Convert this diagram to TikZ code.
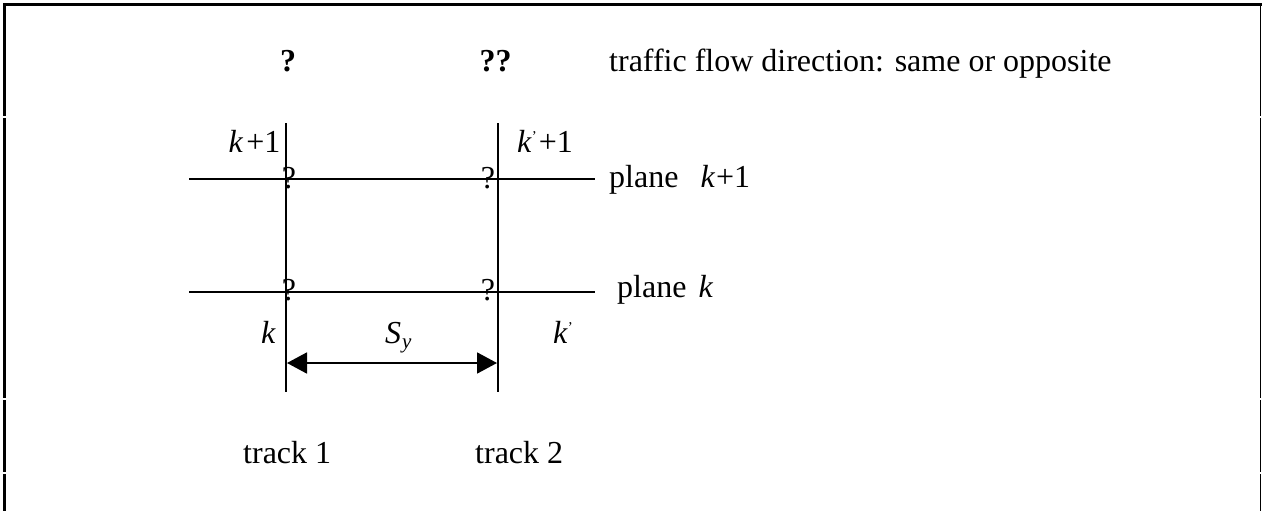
\documentclass[tikz,border=0pt]{standalone}
\usepackage{fontspec}
\setmainfont{Liberation Serif}
\usetikzlibrary{arrows.meta}
\begin{document}
\begin{tikzpicture}[x=1pt,y=-1pt,
  lbl/.style={inner sep=0pt,font=\fontsize{32}{38}\selectfont},
  thickborder/.style={line width=3pt},
  thinborder/.style={line width=1.5pt},
  trackline/.style={line width=1.8pt},
  dimarrow/.style={line width=1.8pt,{Triangle[length=20pt,width=21pt]}-{Triangle[length=20pt,width=21pt]}}]
\useasboundingbox (0,0) rectangle (1262,511);
% border
\coordinate (tl) at (3,5);
\coordinate (tr) at (1262,5);
\draw[thickborder] (tl) -- (tr);
\coordinate (l0) at (4.5,3.5);
\coordinate (l1) at (4.5,116);
\coordinate (l2) at (4.5,118);
\coordinate (l3) at (4.5,398);
\coordinate (l4) at (4.5,400);
\coordinate (l5) at (4.5,472);
\coordinate (l6) at (4.5,474);
\coordinate (l7) at (4.5,511);
\draw[thickborder] (l0) -- (l1) (l2) -- (l3) (l4) -- (l5) (l6) -- (l7);
\coordinate (r0) at (1260.5,5);
\coordinate (r1) at (1260.5,116);
\coordinate (r2) at (1260.5,118);
\coordinate (r3) at (1260.5,398);
\coordinate (r4) at (1260.5,400);
\coordinate (r5) at (1260.5,472);
\coordinate (r6) at (1260.5,474);
\coordinate (r7) at (1260.5,511);
\draw[thinborder] (r0) -- (r1) (r2) -- (r3) (r4) -- (r5) (r6) -- (r7);
% top row
\node[lbl,anchor=base] (q1) at (288,72) {\textbf{?}};
\node[lbl,anchor=base] (q2) at (495.5,72) {\textbf{??}};
\node[lbl,anchor=base west] (flow) at (609,72) {traffic flow direction: same or opposite};
% tracks
\coordinate (t1top) at (286,123);
\coordinate (t1bot) at (286,392);
\coordinate (t2top) at (498,123);
\coordinate (t2bot) at (498,392);
\draw[trackline] (t1top) -- (t1bot);
\draw[trackline] (t2top) -- (t2bot);
% planes
\coordinate (p1l) at (189,179);
\coordinate (p1r) at (595,179);
\coordinate (p0l) at (189,292);
\coordinate (p0r) at (595,292);
\draw[trackline] (p1l) -- (p1r);
\draw[trackline] (p0l) -- (p0r);
% intersection marks
\node[lbl,anchor=base] (i11) at (289,188) {?};
\node[lbl,anchor=base] (i21) at (488,188) {?};
\node[lbl,anchor=base] (i10) at (289,300) {?};
\node[lbl,anchor=base] (i20) at (488,300) {?};
% labels
\node[lbl,anchor=base east] (k1) at (280.5,152) {\textit{k}\hspace{3pt}+1};
\node[lbl,anchor=base west] (k2) at (517,152) {\textit{k}\raisebox{11pt}{\fontsize{15}{15}\selectfont '}\hspace{2pt}+1};
\node[lbl,anchor=base west] (pl1) at (609,187) {plane\hspace{22pt}\textit{k}\hspace{1pt}+1};
\node[lbl,anchor=base west] (pl0) at (617,297) {plane\hspace{12pt}\textit{k}};
\node[lbl,anchor=base west] (kb1) at (261,343) {\textit{k}};
\node[lbl,anchor=base west] (sy) at (385,343) {\textit{S}\hspace{1pt}\raisebox{-5pt}{\fontsize{21}{21}\selectfont\textit{y}}};
\node[lbl,anchor=base west] (kb2) at (553,343) {\textit{k}\raisebox{11pt}{\fontsize{15}{15}\selectfont '}};
% dimension arrow
\coordinate (a1) at (287,363);
\coordinate (a2) at (497,363);
\draw[dimarrow] (a1) -- (a2);
% track labels
\node[lbl,anchor=base west] (tr1) at (243,463) {track 1};
\node[lbl,anchor=base west] (tr2) at (475,463) {track 2};
\end{tikzpicture}
\end{document}
